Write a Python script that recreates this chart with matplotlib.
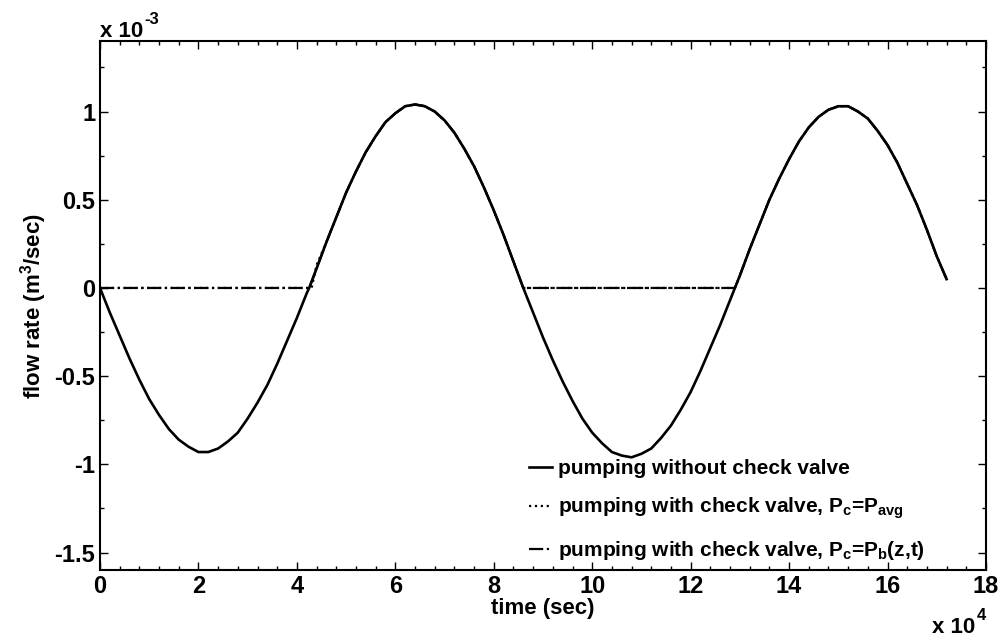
import numpy as np
import matplotlib.pyplot as plt
from matplotlib.ticker import MultipleLocator

plt.rcParams['font.family'] = ['Liberation Sans', 'DejaVu Sans']
plt.rcParams['font.weight'] = 'bold'
plt.rcParams['mathtext.fontset'] = 'custom'
plt.rcParams['mathtext.rm'] = 'Liberation Sans:bold'
plt.rcParams['mathtext.it'] = 'Liberation Sans:bold'
plt.rcParams['mathtext.bf'] = 'Liberation Sans:bold'

# time in units of 1e4 sec, flow rate in units of 1e-3 m^3/sec
time = [0.0, 0.2, 0.4, 0.6, 0.8, 1.0, 1.2, 1.4, 1.6, 1.8, 2.0, 2.2, 2.4, 2.6, 2.8,
        3.0, 3.2, 3.4, 3.6, 3.8, 4.0, 4.2, 4.25, 4.4, 4.6, 4.8, 5.0, 5.2, 5.4, 5.6,
        5.8, 6.0, 6.2, 6.4, 6.6, 6.8, 7.0, 7.2, 7.4, 7.6, 7.8, 8.0, 8.2, 8.4, 8.6,
        8.8, 9.0, 9.2, 9.4, 9.6, 9.8, 10.0, 10.2, 10.4, 10.6, 10.8, 11.0, 11.2, 11.4,
        11.6, 11.8, 12.0, 12.2, 12.4, 12.6, 12.8, 12.9, 13.0, 13.2, 13.4, 13.6, 13.8,
        14.0, 14.2, 14.4, 14.6, 14.8, 15.0, 15.2, 15.4, 15.6, 15.8, 16.0, 16.2, 16.4,
        16.6, 16.8, 17.0, 17.2]
no_valve = [0.0, -0.14, -0.27, -0.40, -0.52, -0.63, -0.72, -0.80, -0.86, -0.90, -0.93, -0.93, -0.91, -0.87, -0.82,
            -0.74, -0.65, -0.55, -0.43, -0.30, -0.17, -0.03, 0.0, 0.11, 0.26, 0.40, 0.54, 0.66, 0.77, 0.86,
            0.94, 0.99, 1.03, 1.04, 1.03, 1.00, 0.95, 0.88, 0.79, 0.69, 0.57, 0.44, 0.30, 0.15, 0.0,
            -0.14, -0.28, -0.41, -0.53, -0.64, -0.74, -0.82, -0.88, -0.93, -0.95, -0.96, -0.94, -0.91, -0.85,
            -0.78, -0.69, -0.59, -0.47, -0.34, -0.21, -0.07, 0.0, 0.07, 0.22, 0.36, 0.50, 0.62,
            0.73, 0.83, 0.91, 0.97, 1.01, 1.03, 1.03, 1.00, 0.96, 0.89, 0.81, 0.71, 0.59,
            0.47, 0.33, 0.18, 0.05]

# check valve runs: zero while the pump would draw back, same flow otherwise
closed1 = [0.0, 4.3]      # Pc = Pavg closes slightly longer
closed1_b = [0.0, 4.25]
closed2 = [8.6, 12.9]
pos1 = slice(23, 45)      # 4.4 .. 8.6
pos2 = slice(67, 89)      # 13.0 .. 17.2

time_avg = closed1 + [4.4] + time[24:45] + closed2 + time[pos2]
valve_avg = [0.0, 0.0, 0.13] + no_valve[24:45] + [0.0, 0.0] + no_valve[pos2]
time_b = closed1_b + time[pos1] + closed2 + time[pos2]
valve_b = [0.0, 0.0] + no_valve[pos1] + [0.0, 0.0] + no_valve[pos2]

fig = plt.figure(figsize=(10.03, 6.4), dpi=100)
ax = fig.add_axes([0.0997, 0.109, 0.8833, 0.827])

l1, = ax.plot(time, no_valve, color='black', lw=1.9, zorder=3)
l2, = ax.plot(time_avg, valve_avg, color='black', lw=1.6, ls=':', zorder=2)
l3, = ax.plot(time_b, valve_b, color='black', lw=1.6, ls='-.', zorder=2)

ax.set_xlim(0, 18)
ax.set_ylim(-1.6, 1.4)
ax.xaxis.set_major_locator(MultipleLocator(2))
ax.xaxis.set_minor_locator(MultipleLocator(0.4))
ax.yaxis.set_minor_locator(MultipleLocator(0.25))
ax.set_yticks([-1.5, -1, -0.5, 0, 0.5, 1])
ax.set_yticklabels(['-1.5', '-1', '-0.5', '0', '0.5', '1'])
ax.tick_params(which='both', direction='in', top=True, right=True, labelsize=17, width=1)
ax.tick_params(which='major', length=6)
ax.tick_params(which='minor', length=3)
for s in ax.spines.values():
    s.set_linewidth(1.5)

ax.set_xlabel('time (sec)', fontsize=16, fontweight='bold', labelpad=0)
ax.set_ylabel('flow rate (m$^3$/sec)', fontsize=16, fontweight='bold', labelpad=4)

# MATLAB style exponent labels
t1 = fig.text(100 / 1003, 1 - 37 / 640, 'x 10', fontsize=16, ha='left', va='baseline')
ax.annotate('-3', xy=(1, 1), xycoords=t1, xytext=(1, -4), textcoords='offset points',
            fontsize=12, ha='left', va='bottom', annotation_clip=False)
t2 = fig.text(975 / 1003, 1 - 633 / 640, 'x 10', fontsize=16, ha='right', va='baseline')
ax.annotate('4', xy=(1, 1), xycoords=t2, xytext=(1, -4), textcoords='offset points',
            fontsize=12, ha='left', va='bottom', annotation_clip=False)

ax.legend([l1, l2, l3],
          ['pumping without check valve',
           'pumping with check valve, P$_\\mathrm{c}$=P$_\\mathrm{avg}$',
           'pumping with check valve, P$_\\mathrm{c}$=P$_\\mathrm{b}$(z,t)'],
          loc='lower right', frameon=False, fontsize=15, handlelength=1.1,
          handletextpad=0.3, labelspacing=0.85, borderaxespad=0,
          bbox_to_anchor=(0.941, 0.0))

fig.savefig('out.png', dpi=100)
